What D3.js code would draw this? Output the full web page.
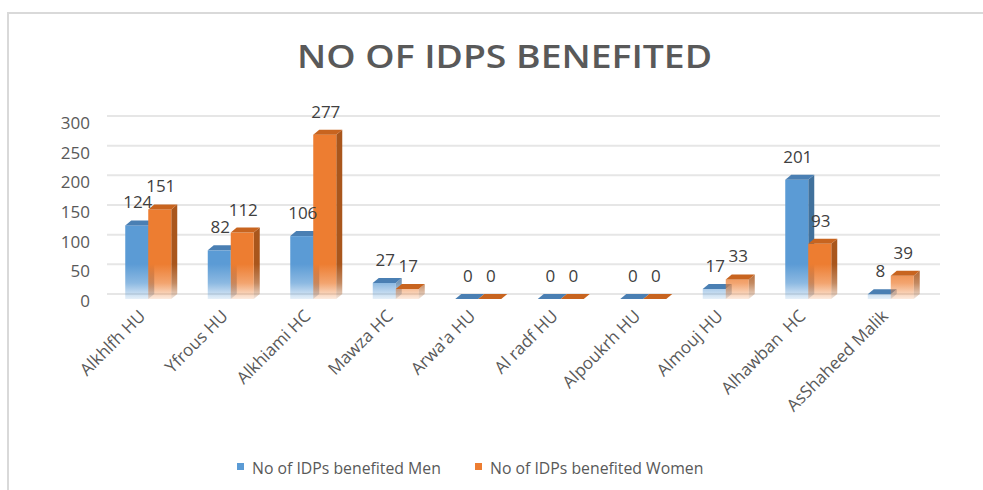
<!DOCTYPE html>
<html>
<head>
<meta charset="utf-8">
<script src="https://cdn.jsdelivr.net/npm/d3@7/dist/d3.min.js"></script>
<style>
  html, body { margin: 0; padding: 0; background: #ffffff; }
  svg { display: block; }
</style>
</head>
<body>
<svg id="chart" width="983" height="490"></svg>
<script>
const categories = ["Alkhlfh HU", "Yfrous HU", "Alkhiami HC", "Mawza HC", "Arwa'a HU", "Al radf HU", "Alpoukrh HU", "Almouj HU", "Alhawban  HC", "AsShaheed Malik"];
const menValues = [124, 82, 106, 27, 0, 0, 0, 17, 201, 8];
const womenValues = [151, 112, 277, 17, 0, 0, 0, 33, 93, 39];
const yTickValues = [0, 50, 100, 150, 200, 250, 300];
const seriesNames = ["No of IDPs benefited Men", "No of IDPs benefited Women"];
const chartTitle = "NO OF IDPS BENEFITED";

const series = [
  { name: seriesNames[0], values: menValues, color: "#5B9BD5", top: "#4A7FB3", side: "#41719C" },
  { name: seriesNames[1], values: womenValues, color: "#ED7D31", top: "#C8641F", side: "#A9561C" }
];

const svg = d3.select("#chart");
const font = "'Open Sans', 'Noto Sans', sans-serif";
const textColor = "#595959";

// frame
svg.append("path")
  .attr("d", "M8,492 V13 H985")
  .attr("fill", "none")
  .attr("stroke", "#d9d9d9")
  .attr("stroke-width", 2);

// title
svg.append("text")
  .attr("x", 504.5).attr("y", 68)
  .attr("text-anchor", "middle")
  .attr("font-family", font)
  .attr("font-weight", 600)
  .attr("font-size", 32)
  .attr("fill", textColor)
  .attr("textLength", 415)
  .attr("lengthAdjust", "spacingAndGlyphs")
  .text(chartTitle);

const x = d3.scaleBand().domain(categories).range([107, 932]);
const y = d3.scaleLinear().domain([0, 300]).range([299, 121]);
const barW = 23, dx = 6, dy = -5;

// gridlines (back wall)
svg.append("g").selectAll("line")
  .data(yTickValues)
  .join("line")
  .attr("x1", 107).attr("x2", 940)
  .attr("y1", d => y(d) + dy).attr("y2", d => y(d) + dy)
  .attr("stroke", "#e6e6e6")
  .attr("stroke-width", 2);

// y axis labels
const yAxis = d3.axisLeft(y).tickValues(yTickValues).tickSize(0).tickPadding(0);
const gy = svg.append("g").attr("transform", "translate(90,2)").call(yAxis);
gy.select(".domain").remove();
gy.selectAll("text")
  .attr("font-family", font)
  .attr("font-size", 17)
  .attr("fill", textColor);

// gradients
const defs = svg.append("defs");
series.forEach((s, i) => {
  [["front", s.color], ["side", s.side]].forEach(([k, c]) => {
    const g = defs.append("linearGradient")
      .attr("id", `grad${i}${k}`)
      .attr("gradientUnits", "userSpaceOnUse")
      .attr("x1", 0).attr("x2", 0)
      .attr("y1", 264).attr("y2", 302);
    g.append("stop").attr("offset", 0).attr("stop-color", c).attr("stop-opacity", 1);
    g.append("stop").attr("offset", 0.5).attr("stop-color", c).attr("stop-opacity", 0.7);
    g.append("stop").attr("offset", 1).attr("stop-color", c).attr("stop-opacity", 0.05);
  });
});

// bars
const barsG = svg.append("g");
categories.forEach((cat, ci) => {
  const cx = x(cat) + x.bandwidth() / 2;
  series.forEach((s, si) => {
    const v = s.values[ci];
    const x0 = cx - barW + si * barW;
    const yt = y(v), yb = y(0);
    const g = barsG.append("g");
    g.append("path")
      .attr("d", `M${x0 + barW},${yt} L${x0 + barW + dx},${yt + dy} L${x0 + barW + dx},${yb + dy} L${x0 + barW},${yb} Z`)
      .attr("fill", `url(#grad${si}side)`);
    g.append("rect")
      .attr("x", x0).attr("y", yt)
      .attr("width", barW).attr("height", Math.max(0, yb - yt))
      .attr("fill", `url(#grad${si}front)`);
    g.append("path")
      .attr("d", `M${x0},${yt} L${x0 + dx},${yt + dy} L${x0 + barW + dx},${yt + dy} L${x0 + barW},${yt} Z`)
      .attr("fill", s.top);
  });
});

// value labels
const labelsG = svg.append("g");
categories.forEach((cat, ci) => {
  const cx = x(cat) + x.bandwidth() / 2;
  series.forEach((s, si) => {
    const v = s.values[ci];
    const x0 = cx - barW + si * barW;
    labelsG.append("text")
      .attr("x", x0 + barW / 2 + 1)
      .attr("y", y(v) - 17)
      .attr("text-anchor", "middle")
      .attr("font-family", font)
      .attr("font-size", 17)
      .attr("fill", "#404040")
      .text(v);
  });
});

// category labels
svg.append("g").selectAll("text")
  .data(categories)
  .join("text")
  .attr("transform", d => `translate(${x(d) + x.bandwidth() / 2 - 6},${313}) rotate(-45)`)
  .attr("text-anchor", "end")
  .attr("dy", "0.35em")
  .attr("font-family", font)
  .attr("font-size", 17)
  .attr("fill", textColor)
  .style("white-space", "pre")
  .text(d => d);

// legend
const legendItems = [
  { s: series[0], x: 237 },
  { s: series[1], x: 475 }
];
const lg = svg.append("g");
legendItems.forEach(it => {
  lg.append("rect")
    .attr("x", it.x).attr("y", 463)
    .attr("width", 7).attr("height", 7)
    .attr("fill", it.s.color);
  lg.append("text")
    .attr("x", it.x + 15).attr("y", 474)
    .attr("font-family", font)
    .attr("font-size", 15.8)
    .attr("fill", textColor)
    .text(it.s.name);
});
</script>
</body>
</html>
